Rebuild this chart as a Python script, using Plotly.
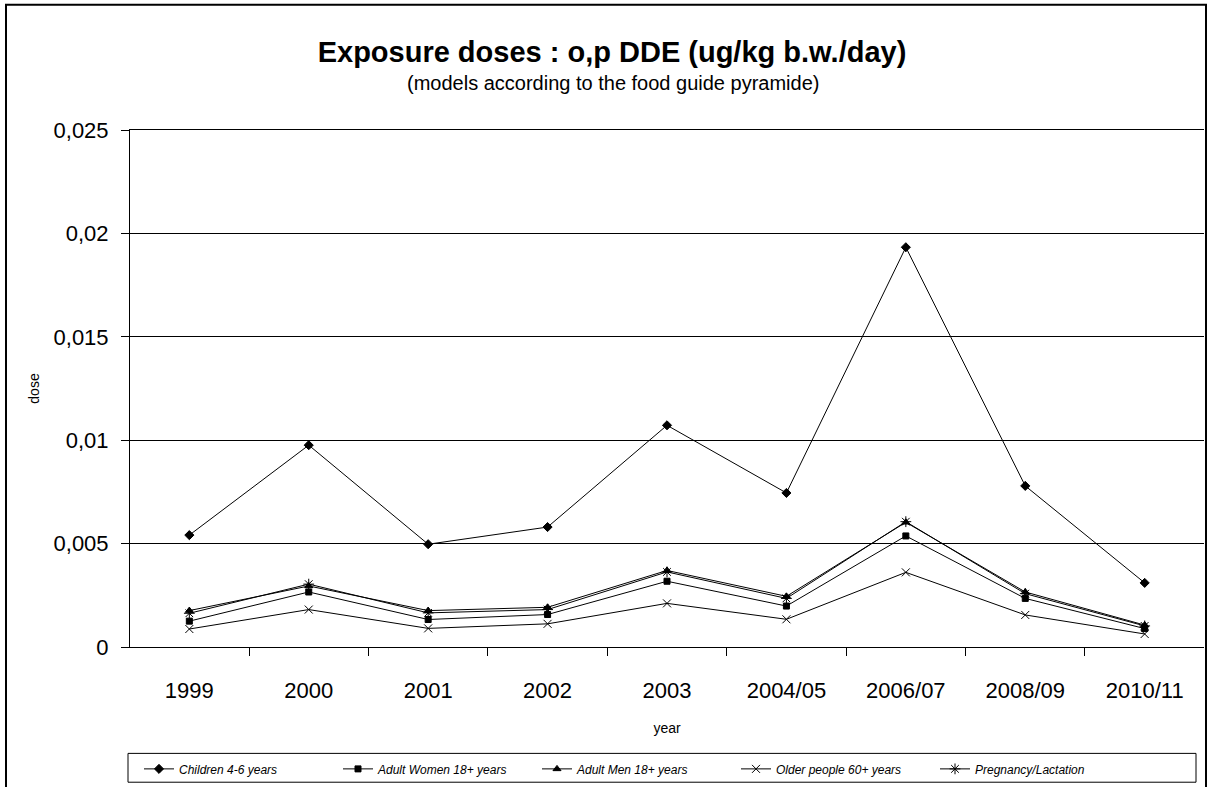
import plotly.graph_objects as go

years = ["1999", "2000", "2001", "2002", "2003", "2004/05", "2006/07", "2008/09", "2010/11"]

children = [0.00541, 0.00976, 0.00497, 0.00580, 0.01072, 0.00745, 0.01933, 0.00779, 0.00310]
women = [0.00125, 0.00266, 0.00133, 0.00157, 0.00318, 0.00198, 0.00537, 0.00235, 0.00089]
men = [0.00176, 0.00295, 0.00176, 0.00192, 0.00370, 0.00245, 0.00603, 0.00266, 0.00106]
older = [0.00087, 0.00181, 0.00090, 0.00112, 0.00211, 0.00134, 0.00361, 0.00155, 0.00063]
pregnancy = [0.00163, 0.00304, 0.00165, 0.00181, 0.00363, 0.00235, 0.00606, 0.00258, 0.00102]

series_names = ["Children 4-6 years", "Adult Women 18+ years", "Adult Men 18+ years",
                "Older people 60+ years", "Pregnancy/Lactation"]
series_values = [children, women, men, older, pregnancy]
series_symbols = ["diamond", "square", "triangle-up", "x-thin-open", "asterisk-open"]
series_sizes = [7, 6, 7, 8, 9]

y_tickvals = [0, 0.005, 0.01, 0.015, 0.02, 0.025]
y_ticktext = ["0", "0,005", "0,01", "0,015", "0,02", "0,025"]

FONT = "Liberation Sans, Arial, sans-serif"

fig = go.Figure()
for name, vals, sym, sz in zip(series_names, series_values, series_symbols, series_sizes):
    fig.add_trace(go.Scatter(
        x=years, y=vals, name=name, mode="lines+markers",
        line=dict(color="black", width=1),
        marker=dict(symbol=sym, size=sz, color="black",
                    line=dict(color="black", width=1)),
    ))

L, R, T, B = 130, 4, 130, 137
W, H = 1208, 787
pw, ph = W - L - R, H - T - B

def px(x):
    return (x - L) / pw

def py(y):
    return (H - B - y) / ph

fig.update_layout(
    width=W, height=H,
    margin=dict(l=L, r=R, t=T, b=B, pad=0),
    paper_bgcolor="white", plot_bgcolor="white",
    font=dict(family=FONT, color="black"),
    separators=", ",
    title=dict(text="<b>Exposure doses : o,p DDE (ug/kg b.w./day)</b>",
               x=612 / W, xanchor="center", xref="container",
               y=1 - 52 / H, yanchor="middle", yref="container",
               font=dict(size=29, family=FONT, color="black")),
    annotations=[dict(text="(models according to the food guide pyramide)",
                      x=px(613), y=py(83), xref="paper", yref="paper",
                      xanchor="center", yanchor="middle", showarrow=False,
                      font=dict(size=20, family=FONT, color="black"))],
    shapes=[dict(type="rect", xref="paper", yref="paper",
                 x0=px(6), x1=px(1206), y0=py(800), y1=py(4),
                 line=dict(color="black", width=2), fillcolor="rgba(0,0,0,0)",
                 layer="above"),
            dict(type="rect", xref="paper", yref="paper",
                 x0=px(128), x1=px(1196), y0=py(786), y1=py(757),
                 line=dict(color="black", width=1), fillcolor="rgba(0,0,0,0)",
                 layer="above")],
    showlegend=True,
    legend=dict(orientation="h", x=px(139), xanchor="left", y=py(758), yanchor="top",
                borderwidth=0, bgcolor="rgba(0,0,0,0)",
                font=dict(size=12, family=FONT, color="black", style="italic"),
                entrywidth=154, itemclick=False),
    xaxis=dict(type="category", showgrid=False, showline=True, linecolor="black",
               linewidth=1, mirror=True, ticks="outside", ticklen=8, tickcolor="black",
               tickson="boundaries", tickfont=dict(size=22), ticklabelstandoff=24,
               title=dict(text="year", font=dict(size=14), standoff=20)),
    yaxis=dict(range=[0, 0.025], tickvals=y_tickvals, ticktext=y_ticktext,
               showgrid=True, gridcolor="black", gridwidth=1,
               showline=True, linecolor="black", linewidth=1,
               ticks="outside", ticklen=8, tickcolor="black",
               tickfont=dict(size=22), ticklabelstandoff=8, zeroline=False,
               title=dict(text="dose", font=dict(size=14), standoff=10)),
)

fig.write_html("out.html", config={"displayModeBar": False},
               post_script="document.body.style.margin='0';document.body.style.overflow='hidden';")
